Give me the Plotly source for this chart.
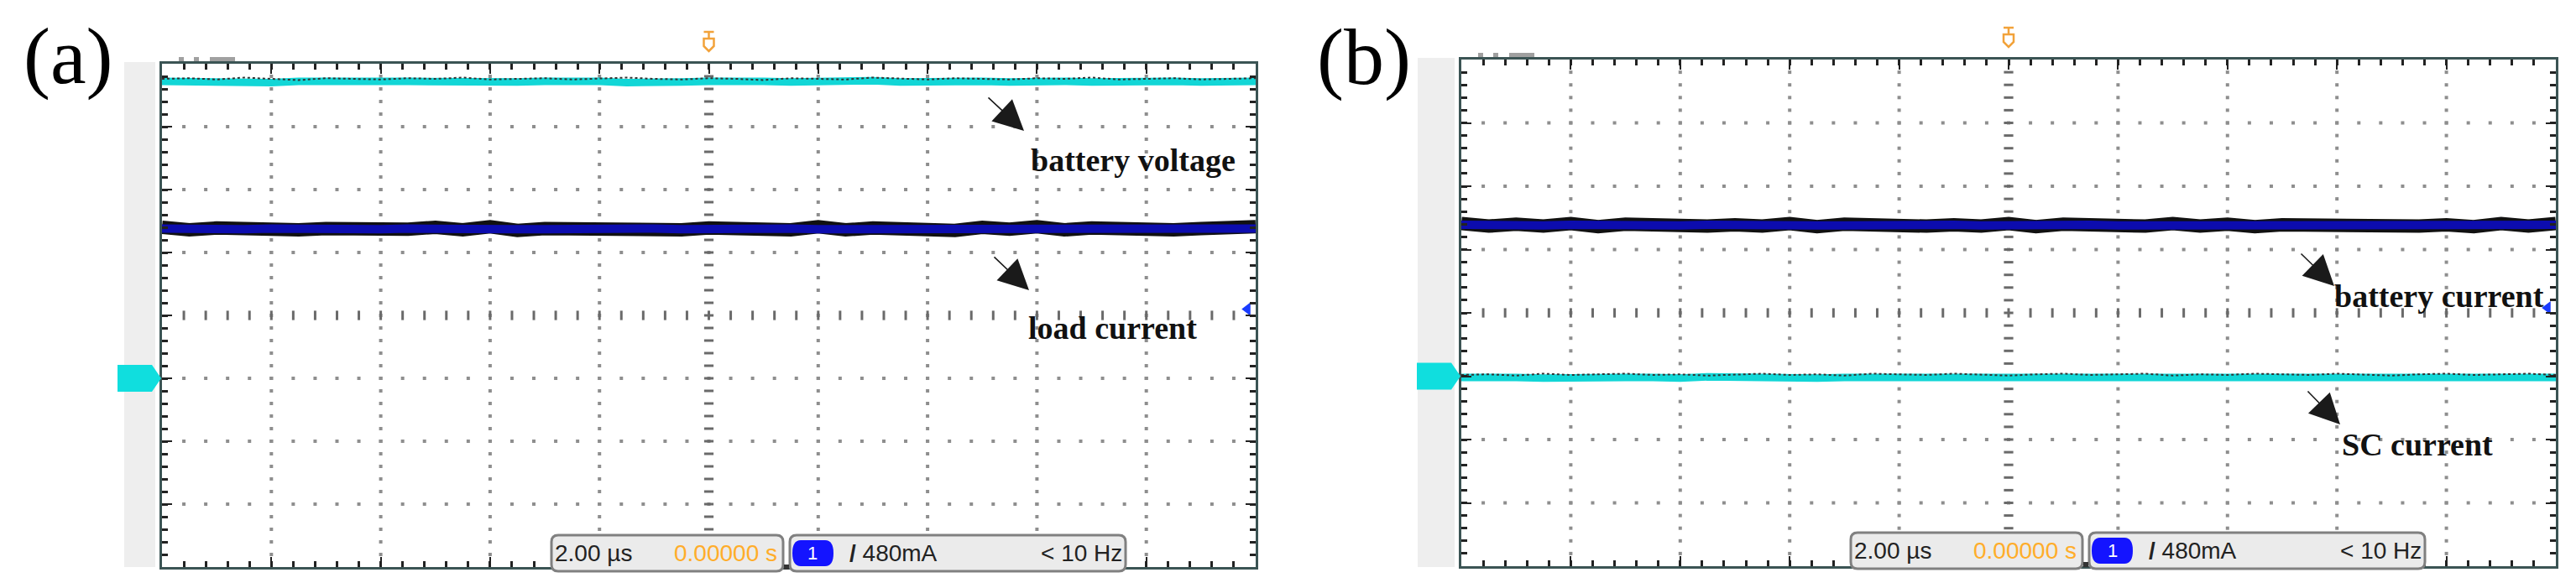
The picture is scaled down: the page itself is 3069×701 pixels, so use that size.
import numpy as np
import plotly.graph_objects as go

W, H = 3069, 701

# sample instants (us), 2 us/div, trigger at 0
t = list(np.arange(-10, 10.01, 0.5))

# channel levels (divisions)
batt_v_a = [3.72, 3.71, 3.73, 3.72, 3.70, 3.72, 3.73, 3.71, 3.72, 3.72, 3.71,
            3.73, 3.72, 3.71, 3.72, 3.73, 3.72, 3.70, 3.72, 3.71, 3.72,
            3.73, 3.72, 3.71, 3.72, 3.72, 3.73, 3.71, 3.72, 3.70, 3.72,
            3.71, 3.73, 3.72, 3.71, 3.72, 3.73, 3.72, 3.71, 3.72, 3.72]
batt_v_a_spk = [3.76, 3.77, 3.75, 3.78, 3.76, 3.74, 3.77, 3.76, 3.75, 3.77, 3.76,
                3.78, 3.75, 3.76, 3.77, 3.75, 3.76, 3.78, 3.76, 3.75, 3.77,
                3.76, 3.74, 3.77, 3.76, 3.75, 3.78, 3.76, 3.75, 3.77, 3.76,
                3.75, 3.77, 3.76, 3.78, 3.75, 3.76, 3.77, 3.75, 3.76, 3.77]
load_i_a = [1.38, 1.37, 1.39, 1.37, 1.38, 1.37, 1.38, 1.38, 1.37, 1.38, 1.37,
            1.38, 1.38, 1.37, 1.37, 1.38, 1.39, 1.37, 1.38, 1.37, 1.38,
            1.37, 1.38, 1.38, 1.37, 1.37, 1.38, 1.37, 1.38, 1.38, 1.37,
            1.37, 1.38, 1.38, 1.37, 1.38, 1.37, 1.38, 1.38, 1.37, 1.38]
load_i_a_env = [1.40, 1.36, 1.39, 1.37, 1.40, 1.36, 1.38, 1.36, 1.39, 1.37, 1.40,
                1.36, 1.41, 1.35, 1.38, 1.37, 1.40, 1.36, 1.38, 1.36, 1.39,
                1.37, 1.40, 1.36, 1.41, 1.36, 1.39, 1.37, 1.38, 1.35, 1.40,
                1.37, 1.41, 1.36, 1.39, 1.37, 1.40, 1.36, 1.38, 1.37, 1.41]
batt_i_b = [1.39, 1.38, 1.39, 1.38, 1.39, 1.38, 1.39, 1.39, 1.38, 1.39, 1.38,
            1.39, 1.39, 1.38, 1.38, 1.39, 1.39, 1.38, 1.39, 1.38, 1.39,
            1.38, 1.39, 1.39, 1.38, 1.38, 1.39, 1.38, 1.39, 1.39, 1.38,
            1.38, 1.39, 1.39, 1.38, 1.39, 1.38, 1.39, 1.39, 1.38, 1.39]
batt_i_b_env = [1.41, 1.37, 1.40, 1.37, 1.41, 1.36, 1.40, 1.38, 1.41, 1.37, 1.39,
                1.37, 1.41, 1.36, 1.40, 1.38, 1.41, 1.37, 1.39, 1.37, 1.41,
                1.36, 1.40, 1.38, 1.39, 1.37, 1.41, 1.37, 1.40, 1.36, 1.39,
                1.38, 1.41, 1.37, 1.40, 1.37, 1.39, 1.36, 1.41, 1.37, 1.41]
sc_i_b = [-1.02, -1.01, -1.02, -1.03, -1.02, -1.01, -1.02, -1.02, -1.03, -1.01, -1.02,
          -1.02, -1.01, -1.03, -1.02, -1.02, -1.01, -1.02, -1.03, -1.02, -1.01,
          -1.02, -1.02, -1.03, -1.01, -1.02, -1.02, -1.01, -1.03, -1.02, -1.02,
          -1.01, -1.02, -1.03, -1.02, -1.01, -1.02, -1.02, -1.03, -1.01, -1.02]
sc_i_b_spk = [-0.98, -0.97, -0.99, -0.96, -0.98, -0.97, -0.96, -0.98, -0.97, -0.99, -0.97,
              -0.96, -0.98, -0.97, -0.99, -0.96, -0.97, -0.98, -0.96, -0.97, -0.99,
              -0.97, -0.96, -0.98, -0.97, -0.96, -0.99, -0.97, -0.98, -0.96, -0.97,
              -0.98, -0.96, -0.97, -0.99, -0.97, -0.96, -0.98, -0.97, -0.96, -0.98]

gnd_marker = [-1.0, -1.0]      # cyan channel ground marker, (a), (b)
ch1_marker = [0.1, 0.08]       # blue channel ground marker, (a), (b)

labels_a = ["battery voltage", "load current"]
labels_b = ["battery current", "SC current"]
timebase = "2.00 µs"
trig_pos = "0.00000 s"
trig_lvl = "480mA"
trig_freq = "< 10 Hz"

CYAN = "#12d6d6"
BLUE = "#0c0cae"
FRAME = "#3b5454"

# frame pixel boxes of the two screens
frames = [(185, 68, 1488, 668), (1733, 63, 3037, 667)]
dx_b = 1548


def px(x):
    return x / W


def py(y):
    return 1 - y / H


fig = go.Figure()

x_minor = [round(-10 + 0.4 * k, 1) for k in range(1, 50)]
y_minor = [round(-4 + 0.2 * k, 1) for k in range(1, 40)]

for i, sfx in enumerate(["", "2"]):
    xa, ya = "x" + sfx, "y" + sfx
    # dotted graticule
    gx, gy = [], []
    for xv in [-8, -6, -4, -2, 2, 4, 6, 8]:
        gx += [xv] * len(y_minor)
        gy += y_minor
    for yv in [-3, -2, -1, 1, 2, 3]:
        gx += x_minor
        gy += [yv] * len(x_minor)
    fig.add_trace(go.Scatter(x=gx, y=gy, mode="markers", xaxis=xa, yaxis=ya,
                             marker=dict(symbol="square", size=4, color="#8e8e8e"),
                             hoverinfo="skip", showlegend=False))
    fig.add_trace(go.Scatter(x=x_minor, y=[0] * len(x_minor), mode="markers", xaxis=xa, yaxis=ya,
                             marker=dict(symbol="line-ns", size=8, line=dict(width=3, color="#6a6a6a")),
                             hoverinfo="skip", showlegend=False))
    fig.add_trace(go.Scatter(x=[0] * len(y_minor), y=y_minor, mode="markers", xaxis=xa, yaxis=ya,
                             marker=dict(symbol="line-ew", size=8, line=dict(width=3, color="#6a6a6a")),
                             hoverinfo="skip", showlegend=False))

# panel (a)
fig.add_trace(go.Scatter(x=t, y=batt_v_a, mode="lines", line=dict(color=CYAN, width=9),
                         xaxis="x", yaxis="y", showlegend=False))
fig.add_trace(go.Scatter(x=t, y=batt_v_a_spk, mode="lines", line=dict(color="#333", width=2, dash="dot"),
                         xaxis="x", yaxis="y", showlegend=False))
fig.add_trace(go.Scatter(x=t, y=load_i_a_env, mode="lines", line=dict(color="#111", width=16),
                         xaxis="x", yaxis="y", showlegend=False))
fig.add_trace(go.Scatter(x=t, y=load_i_a, mode="lines", line=dict(color=BLUE, width=10),
                         xaxis="x", yaxis="y", showlegend=False))
fig.add_trace(go.Scatter(x=[9.85], y=[ch1_marker[0]], mode="markers", xaxis="x", yaxis="y",
                         marker=dict(symbol="triangle-left", size=14, color="#1a3cff"),
                         cliponaxis=False, showlegend=False))

# panel (b)
fig.add_trace(go.Scatter(x=t, y=batt_i_b_env, mode="lines", line=dict(color="#111", width=16),
                         xaxis="x2", yaxis="y2", showlegend=False))
fig.add_trace(go.Scatter(x=t, y=batt_i_b, mode="lines", line=dict(color=BLUE, width=10),
                         xaxis="x2", yaxis="y2", showlegend=False))
fig.add_trace(go.Scatter(x=t, y=sc_i_b, mode="lines", line=dict(color=CYAN, width=9),
                         xaxis="x2", yaxis="y2", showlegend=False))
fig.add_trace(go.Scatter(x=t, y=sc_i_b_spk, mode="lines", line=dict(color="#333", width=2, dash="dot"),
                         xaxis="x2", yaxis="y2", showlegend=False))
fig.add_trace(go.Scatter(x=[9.85], y=[ch1_marker[1]], mode="markers", xaxis="x2", yaxis="y2",
                         marker=dict(symbol="triangle-left", size=14, color="#1a3cff"),
                         cliponaxis=False, showlegend=False))

axis_common = dict(showgrid=False, zeroline=False, showline=True, linecolor=FRAME,
                   linewidth=3, mirror="ticks", ticks="inside", tickcolor="#222",
                   ticklen=12, tickwidth=2, showticklabels=False, fixedrange=True)

layout = dict(width=W, height=H, margin=dict(l=0, r=0, t=0, b=0),
              paper_bgcolor="white", plot_bgcolor="white", showlegend=False)
for i, sfx in enumerate(["", "2"]):
    x0, y0, x1, y1 = frames[i]
    layout["xaxis" + sfx] = dict(axis_common, domain=[px(x0), px(x1)], range=[-10, 10],
                                 tickvals=list(range(-10, 11, 2)), anchor="y" + sfx,
                                 minor=dict(ticks="inside", dtick=0.4, tick0=0, ticklen=7,
                                            tickwidth=3, tickcolor="#222"))
    layout["yaxis" + sfx] = dict(axis_common, domain=[py(y1), py(y0)], range=[-4, 4],
                                 tickvals=list(range(-4, 5)), anchor="x" + sfx,
                                 minor=dict(ticks="inside", dtick=0.2, tick0=0, ticklen=7,
                                            tickwidth=3, tickcolor="#222"))
fig.update_layout(**layout)

shapes = []
annotations = []


def ylev(i, v):
    x0, y0, x1, y1 = frames[i]
    return y0 + (4 - v) / 8 * (y1 - y0)


for i in range(2):
    x0, y0, x1, y1 = frames[i]
    off = 0 if i == 0 else dx_b
    # grey strip left of screen
    sx0 = 140 if i == 0 else 1681
    shapes.append(dict(type="rect", xref="paper", yref="paper", x0=px(sx0), x1=px(x0 - 8),
                       y0=py(668), y1=py(y0 - 2), fillcolor="#eeeeee", line=dict(width=0), layer="below"))
    # cyan ground marker
    gy = ylev(i, gnd_marker[i])
    gx0 = x0 - 53
    path = "M {},{} L {},{} L {},{} L {},{} L {},{} Z".format(
        px(gx0), py(gy - 16), px(x0 - 12), py(gy - 16), px(x0 - 1), py(gy),
        px(x0 - 12), py(gy + 16), px(gx0), py(gy + 16))
    shapes.append(dict(type="path", xref="paper", yref="paper", path=path,
                       fillcolor="#10dede", line=dict(width=0)))
    # small grey marks above the top-left of the frame
    for a, b in [(20, 26), (38, 44), (57, 87)]:
        shapes.append(dict(type="rect", xref="paper", yref="paper", x0=px(x0 + a), x1=px(x0 + b),
                           y0=py(y0 - 3), y1=py(y0 - 8), fillcolor="#a0a0a0", line=dict(width=0)))
    # orange trigger marker
    cx = (x0 + x1) / 2
    ty = y0 - 38
    shapes.append(dict(type="path", xref="paper", yref="paper",
                       path="M {},{} L {},{} M {},{} L {},{}".format(
                           px(cx - 6), py(ty), px(cx + 6), py(ty), px(cx), py(ty), px(cx), py(ty + 8)),
                       line=dict(color="#f2a23a", width=2.5)))
    shapes.append(dict(type="path", xref="paper", yref="paper",
                       path="M {},{} L {},{} L {},{} L {},{} L {},{} Z".format(
                           px(cx - 6), py(ty + 8), px(cx + 6), py(ty + 8), px(cx + 6), py(ty + 17),
                           px(cx), py(ty + 23), px(cx - 6), py(ty + 17)),
                       fillcolor="white", line=dict(color="#f2a23a", width=2.5)))

    # status boxes at the bottom
    bt = 630 if i == 0 else 627
    bb = bt + 43
    for bx0, bx1 in [(649 + off, 925 + off), (933 + off, 1333 + off)]:
        r = 8
        p = ("M {a},{t1} L {b},{t1} Q {c},{t1} {c},{t2} L {c},{b2} Q {c},{b1} {b},{b1} "
             "L {a},{b1} Q {d},{b1} {d},{b2} L {d},{t2} Q {d},{t1} {a},{t1} Z").format(
            a=px(bx0 + r), b=px(bx1 - r), c=px(bx1), d=px(bx0),
            t1=py(bt), t2=py(bt + r), b1=py(bb), b2=py(bb - r))
        shapes.append(dict(type="path", xref="paper", yref="paper", path=p,
                           fillcolor="#ebebeb", line=dict(color="#808080", width=3)))
    shapes.append(dict(type="rect", xref="paper", yref="paper", x0=px(926 + off), x1=px(932 + off),
                       y0=py(bb - 2), y1=py(bb - 8), fillcolor="#333", line=dict(width=0)))
    # blue channel badge
    bx0, bx1 = 936 + off, 985 + off
    by0, by1 = bt + 6, bb - 6
    p = ("M {a},{t1} L {b},{t1} Q {c},{t1} {c},{m} Q {c},{b1} {b},{b1} "
         "L {a},{b1} Q {d},{b1} {d},{m} Q {d},{t1} {a},{t1} Z").format(
        a=px(bx0 + 10), b=px(bx1 - 10), c=px(bx1), d=px(bx0),
        t1=py(by0), b1=py(by1), m=py((by0 + by1) / 2))
    shapes.append(dict(type="path", xref="paper", yref="paper", path=p,
                       fillcolor="#1414ff", line=dict(width=0)))
    my = (bt + bb) / 2
    sans = "Liberation Sans Narrow, Arial Narrow, Liberation Sans, sans-serif"
    annotations += [
        dict(text=timebase, x=px(651 + off), y=py(my), xanchor="left", yanchor="middle",
             font=dict(family=sans, size=28, color="#222")),
        dict(text=trig_pos, x=px(920 + off), y=py(my), xanchor="right", yanchor="middle",
             font=dict(family=sans, size=28, color="#ffad2a")),
        dict(text="1", x=px(960.5 + off), y=py(my), xanchor="center", yanchor="middle",
             font=dict(family=sans, size=22, color="white")),
        dict(text="<b>/</b> " + trig_lvl, x=px(1002 + off), y=py(my), xanchor="left", yanchor="middle",
             font=dict(family=sans, size=28, color="#222")),
        dict(text=trig_freq, x=px(1331 + off), y=py(my), xanchor="right", yanchor="middle",
             font=dict(family=sans, size=28, color="#222")),
    ]

serif = "Liberation Serif, Times New Roman, serif"
annotations += [
    dict(text="(a)", x=px(73), y=py(58), xanchor="center", yanchor="middle",
         font=dict(family=serif, size=96, color="black")),
    dict(text="(b)", x=px(1617), y=py(60), xanchor="center", yanchor="middle",
         font=dict(family=serif, size=96, color="black")),
]

lab_font = dict(family=serif, size=38, color="#111")
for txt, x, y in [(labels_a[0], 1218, 183), (labels_a[1], 1215, 383),
                  (labels_b[0], 2771, 345), (labels_b[1], 2780, 522)]:
    annotations.append(dict(text="<b>" + txt + "</b>", x=px(x), y=py(y), xanchor="left",
                            yanchor="middle", font=lab_font, showarrow=False))

# arrows: tip, start (pixels)
for (tx, ty), (sx, sy) in [((1212, 148), (1168, 107)), ((1218, 338), (1175, 297)),
                           ((2773, 333), (2732, 293)), ((2780, 498), (2740, 457))]:
    annotations.append(dict(text="", x=px(tx), y=py(ty), ax=sx - tx, ay=sy - ty,
                            showarrow=True, arrowhead=2, arrowsize=4.5, arrowwidth=1.6,
                            arrowcolor="#1a1a1a", standoff=0))

for a in annotations:
    a.setdefault("xref", "paper")
    a.setdefault("yref", "paper")
    a.setdefault("showarrow", False)

fig.update_layout(shapes=shapes, annotations=annotations)
fig.write_html("out.html")
